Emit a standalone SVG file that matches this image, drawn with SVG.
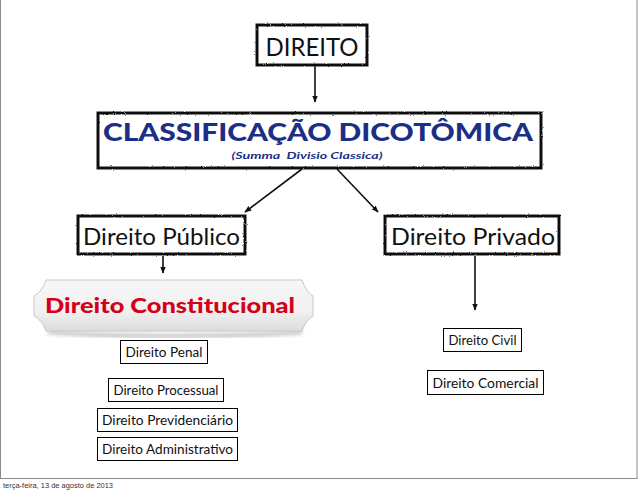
<svg xmlns="http://www.w3.org/2000/svg" width="638" height="491" viewBox="0 0 638 491">
<style>
.rough{fill:#fff;stroke:#111;stroke-width:3;filter:url(#rough)}
.box{fill:#fff;stroke:#000;stroke-width:1}
.t{font-family:Lato,"Open Sans","DejaVu Sans",sans-serif;fill:#111;text-anchor:middle}
.big{font-size:24px}
.small{font-size:13.5px}
.con{stroke:#111;stroke-width:1.6;fill:none;marker-end:url(#ah)}
</style>
<defs>
<filter id="rough" x="-5%" y="-20%" width="110%" height="140%">
<feTurbulence type="fractalNoise" baseFrequency="0.9" numOctaves="2" seed="3" result="n"/>
<feDisplacementMap in="SourceGraphic" in2="n" scale="2" xChannelSelector="R" yChannelSelector="G"/>
</filter>
<marker id="ah" viewBox="0 0 10 10" refX="9" refY="5" markerWidth="7" markerHeight="7" orient="auto" markerUnits="userSpaceOnUse">
<path d="M0,1 L10,5 L0,9 z" fill="#111"/>
</marker>
<linearGradient id="ban" x1="0" y1="0" x2="0" y2="1">
<stop offset="0" stop-color="#f7f7f7"/>
<stop offset="0.6" stop-color="#f1f1f1"/>
<stop offset="1" stop-color="#dcdcdc"/>
</linearGradient>
<filter id="sh" x="-5%" y="-20%" width="110%" height="160%">
<feGaussianBlur stdDeviation="2"/>
</filter>
</defs>
<rect x="0.5" y="-2" width="636.5" height="480.5" fill="none" stroke="#8a8a8a" stroke-width="1"/>
<g id="connectors">
<line class="con" x1="315" y1="66" x2="315" y2="102"/>
<line class="con" x1="302" y1="169" x2="245" y2="212"/>
<line class="con" x1="337" y1="169" x2="378" y2="212"/>
<line class="con" x1="163" y1="256" x2="163" y2="273"/>
<line class="con" x1="475" y1="256" x2="475" y2="310"/>
</g>
<g id="direito">
<rect class="rough" x="257" y="25" width="110" height="40"/>
<text class="t" x="312" y="56" font-size="25" textLength="93" lengthAdjust="spacingAndGlyphs">DIREITO</text>
</g>
<g id="classificacao">
<rect class="rough" x="98" y="113" width="443" height="55"/>
<text class="t" x="318" y="141" font-size="24" font-weight="900" style="fill:#1c2f86" textLength="430" lengthAdjust="spacingAndGlyphs">CLASSIFICAÇÃO DICOTÔMICA</text>
<text class="t" x="307" y="159" font-size="9" font-weight="700" font-style="italic" style="fill:#1c2f86" xml:space="preserve" textLength="151" lengthAdjust="spacingAndGlyphs">(Summa  Divisio Classica)</text>
</g>
<g id="publico">
<rect class="rough" x="78" y="216" width="167" height="38"/>
<text class="t big" x="161.5" y="245" textLength="157" lengthAdjust="spacingAndGlyphs">Direito Público</text>
</g>
<g id="privado">
<rect class="rough" x="385" y="216" width="174" height="38"/>
<text class="t big" x="473" y="245" textLength="164" lengthAdjust="spacingAndGlyphs">Direito Privado</text>
</g>
<g id="constitucional">
<path d="M48,332 Q100,336 175,336 Q250,336 302,332" stroke="#888" stroke-width="3" fill="none" filter="url(#sh)" opacity="0.7"/>
<path d="M46,280 L302,280 Q306,292 313,296 L313,316 Q306,320 302,331 L46,331 Q42,320 34,316 L34,296 Q42,292 46,280 Z" fill="url(#ban)" stroke="#c8c8c8" stroke-width="1"/>
<text x="45" y="313" font-family="Lato,'Open Sans','DejaVu Sans',sans-serif" font-size="20" font-weight="900" fill="#d4001a" textLength="250" lengthAdjust="spacingAndGlyphs">Direito Constitucional</text>
</g>
<g id="penal">
<rect class="box" x="120.5" y="340.5" width="87" height="23"/>
<text class="t small" x="164" y="357" textLength="77" lengthAdjust="spacingAndGlyphs">Direito Penal</text>
</g>
<g id="processual">
<rect class="box" x="108.5" y="378.5" width="115" height="23"/>
<text class="t small" x="166" y="395" textLength="105" lengthAdjust="spacingAndGlyphs">Direito Processual</text>
</g>
<g id="previdenciario">
<rect class="box" x="97.5" y="408.5" width="140" height="23"/>
<text class="t small" x="167.5" y="425" textLength="131" lengthAdjust="spacingAndGlyphs">Direito Previdenciário</text>
</g>
<g id="administrativo">
<rect class="box" x="97.5" y="437.5" width="140" height="23"/>
<text class="t small" x="167.5" y="454" textLength="131" lengthAdjust="spacingAndGlyphs">Direito Administrativo</text>
</g>
<g id="civil">
<rect class="box" x="443.5" y="328.5" width="78" height="23"/>
<text class="t small" x="482.5" y="345" textLength="68" lengthAdjust="spacingAndGlyphs">Direito Civil</text>
</g>
<g id="comercial">
<rect class="box" x="427.5" y="370.5" width="116" height="24"/>
<text class="t small" x="485.5" y="388" textLength="106" lengthAdjust="spacingAndGlyphs">Direito Comercial</text>
</g>
<text x="3" y="488" font-family="'Liberation Sans',Arial,sans-serif" font-size="8" fill="#333" textLength="110" lengthAdjust="spacingAndGlyphs">terça-feira, 13 de agosto de 2013</text>
</svg>
